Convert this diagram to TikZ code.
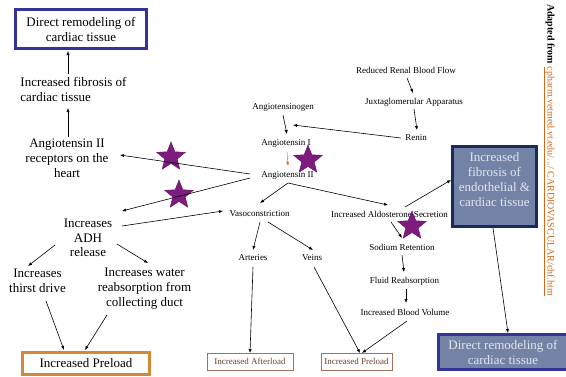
\documentclass[tikz,border=0pt]{standalone}
\usepackage{fontspec}
\setmainfont{Liberation Serif}
\usetikzlibrary{shapes.geometric,arrows.meta}
\definecolor{blueborder}{HTML}{333399}
\definecolor{navy}{HTML}{1B2A5C}
\definecolor{slate}{HTML}{7383A5}
\definecolor{lighttext}{HTML}{E2E5EE}
\definecolor{preorange}{HTML}{D4893A}
\definecolor{brownbox}{HTML}{A87058}
\definecolor{browntext}{HTML}{6A4030}
\definecolor{starpurple}{HTML}{7F1A7F}
\definecolor{stardark}{HTML}{5E0F5E}
\definecolor{linkorange}{HTML}{D06A1A}
\definecolor{arrorange}{HTML}{C8733A}
\begin{document}
\begin{tikzpicture}[x=1pt,y=-1pt,
  big/.style={font=\fontsize{13}{15}\selectfont, align=center, inner sep=1pt},
  small/.style={font=\fontsize{9}{11}\selectfont, inner sep=1pt},
  arr/.style={-{Latex[length=4pt,width=3.2pt]}, line width=0.6pt},
  starmark/.style={star, star points=5, star point ratio=2.3, minimum size=30pt, fill=starpurple, draw=stardark, line width=0.4pt, inner sep=0pt},
  thickbox/.style={line width=3pt, inner sep=0pt, align=center, font=\fontsize{13}{15}\selectfont},
  thinbox/.style={draw=brownbox, line width=0.8pt, inner sep=0pt, text=browntext, font=\fontsize{9}{11}\selectfont, minimum height=17pt}
]
\useasboundingbox (0,0) rectangle (566,376);

% left column
\node[thickbox, draw=blueborder, minimum width=131pt, minimum height=39pt] (topbox) at (81,29) {Direct remodeling of\\cardiac tissue};
\node[big, align=left] (fib) at (73.5,89) {Increased fibrosis of\\cardiac tissue};
\node[big] (rec) at (67,158) {Angiotensin II\\receptors on the\\heart};
\node[big, font=\fontsize{13}{14.5}\selectfont] (adh) at (88,238) {Increases\\ADH\\release};
\node[big] (thirst) at (37.5,281) {Increases\\thirst drive};
\node[big] (water) at (144.5,289) {Increases water\\reabsorption from\\collecting duct};
\node[thickbox, draw=preorange, minimum width=127pt, minimum height=22pt] (preL) at (86,363.5) {Increased Preload};

% renin-angiotensin
\node[small] (rrbf) at (406,70) {Reduced Renal Blood Flow};
\node[small] (ja) at (414,102) {Juxtaglomerular Apparatus};
\node[small] (renin) at (416,138) {Renin};
\node[small] (agen) at (283,107) {Angiotensinogen};
\node[small] (ai) at (286,143) {Angiotensin I};
\node[small] (a2) at (287.5,175) {Angiotensin II};
\node[small] (vaso) at (259.5,214) {Vasoconstriction};
\node[small] (ald) at (389.5,214) {Increased Aldosterone Secretion};
\node[small] (sodium) at (402,247) {Sodium Retention};
\node[small] (fluid) at (404.5,281) {Fluid Reabsorption};
\node[small] (ibv) at (405,312) {Increased Blood Volume};
\node[small] (art) at (253,258) {Arteries};
\node[small] (veins) at (312,258) {Veins};
\node[thinbox, minimum width=86pt] (after) at (250,361.5) {Increased Afterload};
\node[thinbox, minimum width=71pt] (preR) at (356.5,361.5) {Increased Preload};

% right boxes
\node[draw=navy, fill=slate, line width=3pt, minimum width=84pt, minimum height=80pt, inner sep=0pt] (bigbox) at (494.5,186.5) {};
\node[big, text=lighttext] (bigtxt) at (494.5,180) {Increased\\fibrosis of\\endothelial \&\\cardiac tissue};
\node[thickbox, draw=blueborder, fill=slate, text=lighttext, minimum width=129pt, minimum height=35pt] (dr2) at (503,352) {Direct remodeling of\\cardiac tissue};

% stars
\node[starmark] (s1) at (171,157) {};
\node[starmark] (s2) at (179,195) {};
\node[starmark] (s3) at (308,160) {};
\node[starmark] (s4) at (412,226) {};

% source
\node[rotate=-90, anchor=west, inner sep=0pt, font=\fontsize{10}{12}\selectfont] (src) at (549,4)
  {\textbf{Adapted from} \textcolor{linkorange}{\underline{cpharm.vetmed.vt.edu/.../ CARDIOVASCULAR/chf.htm}}};

% arrows left
\draw[arr] ([shift={(-5.5,-15)}]fib.center) -- ([shift={(-13,22)}]topbox.center);
\draw[arr] ([shift={(1,-21)}]rec.center) -- ([shift={(-5.5,19)}]fib.center);
\draw[arr] ([shift={(-37.5,-1)}]a2.center) -- ([shift={(53,-3)}]rec.center);
\draw[arr] ([shift={(-37.5,3)}]a2.center) -- ([shift={(34,-27)}]adh.center);
\draw[arr] ([shift={(34,-12)}]adh.center) -- ([shift={(-36.5,-3)}]vaso.center);
\draw[arr] ([shift={(-33,7)}]adh.center) -- ([shift={(-9.5,-15)}]thirst.center);
\draw[arr] ([shift={(29,6)}]adh.center) -- ([shift={(3.5,-26)}]water.center);
\draw[arr] ([shift={(8.5,20)}]thirst.center) -- ([shift={(-22,-13.5)}]preL.center);
\draw[arr] ([shift={(-37.5,26)}]water.center) -- ([shift={(-1,-13.5)}]preL.center);

% arrows renin-angiotensin
\draw[arr] ([shift={(1,8)}]rrbf.center) -- ([shift={(-1,-9)}]ja.center);
\draw[arr] ([shift={(0,7)}]ja.center) -- ([shift={(1,-8)}]renin.center);
\draw[arr] ([shift={(-15,0)}]renin.center) -- ([shift={(7,-18)}]ai.center);
\draw[arr] ([shift={(0,8)}]agen.center) -- ([shift={(1,-9)}]ai.center);
\draw[arr, draw=arrorange, line width=0.5pt] ([shift={(1,9)}]ai.center) -- ([shift={(0.5,-9)}]a2.center);
\draw[arr] ([shift={(0.5,8)}]a2.center) -- ([shift={(0.5,-11)}]vaso.center);
\draw[arr] ([shift={(0.5,8)}]a2.center) -- ([shift={(-1.5,-9)}]ald.center);
\draw[arr] ([shift={(15.5,-7)}]ald.center) -- (bigbox.west |- 0,180);
\draw[arr] ([shift={(1.5,8)}]ald.center) -- ([shift={(0,-9)}]sodium.center);
\draw[arr] ([shift={(0,8)}]sodium.center) -- ([shift={(-0.5,-9)}]fluid.center);
\draw[arr] ([shift={(1.5,8)}]fluid.center) -- ([shift={(1,-9)}]ibv.center);
\draw[arr] ([shift={(2,9)}]ibv.center) -- ([shift={(5.5,-8.5)}]preR.center);
\draw[arr] ([shift={(0.5,8)}]vaso.center) -- ([shift={(0,-8)}]art.center);
\draw[arr] ([shift={(8.5,8)}]vaso.center) -- ([shift={(1,-8)}]veins.center);
\draw[arr] ([shift={(0,9)}]art.center) -- ([shift={(0,-8.5)}]after.center);
\draw[arr] ([shift={(2,9)}]veins.center) -- ([shift={(3.5,-8.5)}]preR.center);
\draw[arr] ([shift={(-1.5,41.5)}]bigbox.center) -- ([shift={(5,-19)}]dr2.center);
\end{tikzpicture}
\end{document}
